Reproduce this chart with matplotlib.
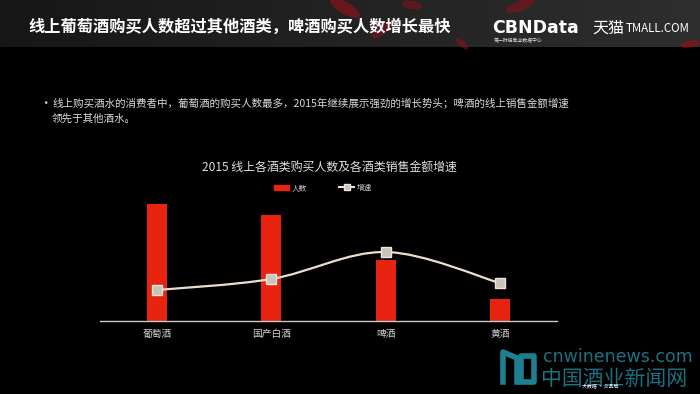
import matplotlib.pyplot as plt
import numpy as np
from matplotlib.patches import Patch, Ellipse, PathPatch
from matplotlib.lines import Line2D
from matplotlib.path import Path

plt.rcParams['font.family'] = ['Noto Sans CJK SC', 'DejaVu Sans']

categories = ['葡萄酒', '国产白酒', '啤酒', '黄酒']
buyers = [117, 106, 61, 22]      # 人数 (relative)
growth = [31, 42, 69, 38]        # 增速 (relative)

header = '线上葡萄酒购买人数超过其他酒类，啤酒购买人数增长最快'
bullet_1 = '线上购买酒水的消费者中，葡萄酒的购买人数最多，2015年继续展示强劲的增长势头；啤酒的线上销售金额增速'
bullet_2 = '领先于其他酒水。'
chart_title = '2015 线上各酒类购买人数及各酒类销售金额增速'

RED = '#e8230f'
CREAM = '#eadfce'
TEAL = '#1d7f90'


def smooth_path(xs, ys):
    # bezier curve through the points, like an office "smoothed line"
    pts = np.column_stack([xs, ys]).astype(float)
    ext = np.vstack([pts[0], pts, pts[-1]])
    verts = [pts[0]]
    codes = [Path.MOVETO]
    for i in range(len(pts) - 1):
        p0, p1, p2, p3 = ext[i], ext[i + 1], ext[i + 2], ext[i + 3]
        verts += [p1 + (p2 - p0) / 6, p2 - (p3 - p1) / 6, p2]
        codes += [Path.CURVE4] * 3
    return Path(verts, codes)


fig = plt.figure(figsize=(7, 3.94), dpi=100, facecolor='black')

# header band
bg = fig.add_axes([0, 0, 1, 1], zorder=-5)
bg.set_xlim(0, 700)
bg.set_ylim(394, 0)
bg.axis('off')
grad = np.linspace(0, 1, 200)[None, :]
shade = 0.09 + 0.09 * grad
bg.imshow(np.dstack([shade, shade, shade]), extent=[0, 700, 47, 0], aspect='auto')
for (cx, cy, w, h, ang, a) in [(345, 8, 34, 12, 30, 0.6), (382, 30, 24, 9, -40, 0.5),
                               (412, 5, 20, 8, 10, 0.5), (520, 6, 30, 10, -20, 0.5),
                               (690, 44, 20, 7, -10, 0.6), (462, 44, 16, 6, 40, 0.5)]:
    bg.add_patch(Ellipse((cx, cy), w, h, angle=ang, color='#9a0f18', alpha=a, lw=0))

fig.text(28 / 700, 1 - 27 / 394, header, color='white', fontsize=11.7,
         fontweight='bold', va='center', ha='left')
fig.text(492 / 700, 1 - 28 / 394, 'CBNData', color='white', fontsize=12.5,
         fontweight='bold', va='center', ha='left', family=['DejaVu Sans'])
fig.text(494 / 700, 1 - 41 / 394, '第一财经商业数据中心', color='#dddddd',
         fontsize=3.5, va='center', ha='left')
fig.text(592 / 700, 1 - 28 / 394, '天猫', color='white', fontsize=11.5,
         va='center', ha='left')
fig.text(626 / 700, 1 - 29 / 394, 'TMALL.COM', color='white', fontsize=8.3,
         va='center', ha='left')

# bullet text
fig.text(39 / 700, 1 - 103 / 394, '•', color='#d0d0d0', fontsize=9, va='center')
fig.text(52 / 700, 1 - 103 / 394, bullet_1, color='#d9d9d9', fontsize=7.6, va='center')
fig.text(52 / 700, 1 - 119 / 394, bullet_2, color='#d9d9d9', fontsize=7.6, va='center')

# chart
ax = fig.add_axes([100 / 700, 73 / 394, 457 / 700, 130 / 394], facecolor='none')
x = np.arange(len(categories))
ax.bar(x, buyers, width=0.175, color=RED, zorder=2)
ax.set_xlim(-0.5, 3.5)
ax.set_ylim(0, 130)
for s in ['top', 'left', 'right']:
    ax.spines[s].set_visible(False)
ax.spines['bottom'].set_color('#c8c8c8')
ax.spines['bottom'].set_linewidth(1)
ax.set_yticks([])
ax.set_xticks(x)
ax.set_xticklabels(categories, color='#d0d0d0', fontsize=7)
ax.tick_params(axis='x', length=0, pad=6)

ax2 = ax.twinx()
ax2.set_ylim(0, 130)
ax2.axis('off')
ax2.add_patch(PathPatch(smooth_path(x, growth), fill=False, edgecolor=CREAM,
                        lw=1.6, zorder=3))
ax2.plot(x, growth, ls='none', marker='s', ms=7, mfc='#cbc2b8', mec='#ece6dc',
         mew=1, zorder=4)

fig.text(329 / 700, 1 - 167 / 394, chart_title, color='#e0e0e0', fontsize=8.6,
         ha='center', va='center')
handles = [Patch(color=RED),
           Line2D([], [], color=CREAM, lw=1.5, marker='s', ms=4,
                  mfc='#cbc2b8', mec='#ece6dc')]
fig.legend(handles, ['人数', '增速'], loc='center', ncol=2, frameon=False,
           bbox_to_anchor=(323 / 700, 1 - 188 / 394), fontsize=5.5,
           labelcolor='#cccccc', columnspacing=4.2, handlelength=2.0,
           handleheight=0.6, handletextpad=0.3)

# watermark
fig.text(543 / 700, 1 - 357 / 394, 'cnwinenews.com', color=TEAL, fontsize=12.5,
         va='center', ha='left', family=['DejaVu Sans'], alpha=0.9)
fig.text(541 / 700, 1 - 379 / 394, '中国酒业新闻网', color=TEAL, fontsize=15,
         va='center', ha='left', alpha=0.9)
bg.plot([503, 503, 517, 517], [382, 352, 358, 382], color=TEAL, lw=4)
bg.plot([521, 521, 534, 534, 526], [382, 356, 356, 382, 382], color=TEAL, lw=4)
fig.text(600 / 700, 1 - 386 / 394, '大数据 · 众品牌', color='white', fontsize=3.5,
         va='center', ha='center')

fig.savefig('out.png', dpi=100, facecolor='black')
